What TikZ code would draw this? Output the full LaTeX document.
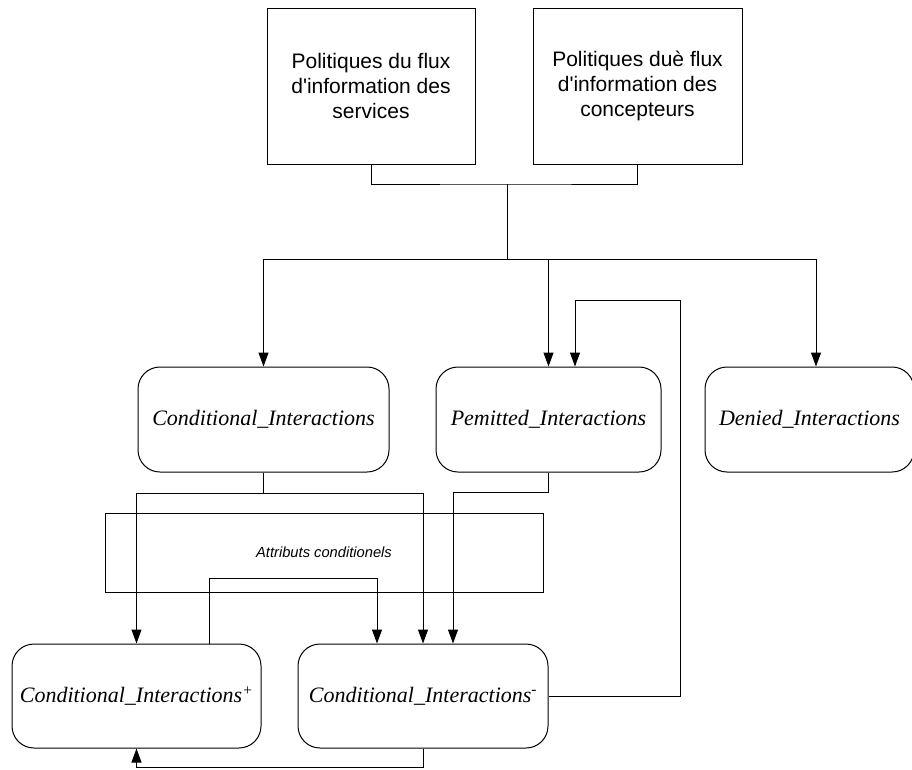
\documentclass[tikz,border=0pt]{standalone}
\usepackage{fontspec}
\setmainfont{Liberation Sans}[Ligatures=TeXOff]
\newfontfamily\tnr{Liberation Serif}
\usetikzlibrary{arrows.meta}
\begin{document}
\begin{tikzpicture}[x=1pt,y=-1pt,
  line width=1pt,
  policy/.style={draw, rectangle, inner sep=0pt, minimum width=208pt, minimum height=156pt,
    align=center, font=\fontsize{21}{25}\selectfont},
  state/.style={draw, rectangle, rounded corners=22pt, inner sep=0pt, minimum height=105pt,
    font=\tnr\itshape\fontsize{22}{26}\selectfont},
  attrbox/.style={draw, rectangle, inner sep=0pt, minimum width=438pt, minimum height=79pt,
    font=\itshape\fontsize{14.7}{18}\selectfont},
  arr/.style={-{Triangle[length=14pt,width=10pt]}},
]
\useasboundingbox (0,0) rectangle (912,769);

% information flow policies
\node[policy] (pol1) at (371,86) {Politiques du flux\\d'information des\\services};
\node[policy, minimum width=209pt] (pol2) at (637.5,86) {Politiques duè flux\\d'information des\\concepteurs};

% interaction classes
\node[state, minimum width=251pt] (cond) at (263.5,419.5) {Conditional\_Interactions};
\node[state, minimum width=225pt] (perm) at (548.5,419.5) {Pemitted\_Interactions};
\node[state, minimum width=209pt] (deny) at (809.5,419.5) {Denied\_Interactions};

% conditional attributes
\node[attrbox] (attr) at (324,552.5) {Attributs conditionels};

% refined conditional interactions
\node[state, minimum width=249pt, minimum height=104pt] (cplus) at (136.5,696) {Conditional\_Interactions\textsuperscript{+}};
\node[state, minimum width=250pt, minimum height=104pt] (cminus) at (423,696) {Conditional\_Interactions\textsuperscript{-}};

% merging the two policies
\coordinate (merge) at (507,184);
\coordinate (split) at (507,259);
\draw (pol1.south) |- (merge) -| (pol2.south);
\draw (merge) -- (split);
\draw[arr] (split) -| (cond.north);
\draw[arr] (split) -| (perm.north);
\draw[arr] (split) -| ([xshift=6.5pt]deny.north);

% conditional interactions split into + and -
\draw[arr] (cond.south) -- ++(0,21) -| (cplus.north);
\draw[arr] (cond.south) -- ++(0,21) -| (cminus.north);

% permitted interactions towards the negative set
\draw[arr] (perm.south) -- ++(0,20) -| ([xshift=30pt]cminus.north);

% positive set back into the negative set
\draw[arr] ([xshift=72.5pt]cplus.north) -- ++(0,-65) -| ([xshift=-46pt]cminus.north);

% negative set back into the positive set
\draw[arr] (cminus.south) -- ++(0,19) -| (cplus.south);

% negative set back into permitted interactions
\coordinate (loopR) at (680,300);
\draw[arr] (cminus.east) -| (loopR) -| ([xshift=26.5pt]perm.north);
\end{tikzpicture}
\end{document}
